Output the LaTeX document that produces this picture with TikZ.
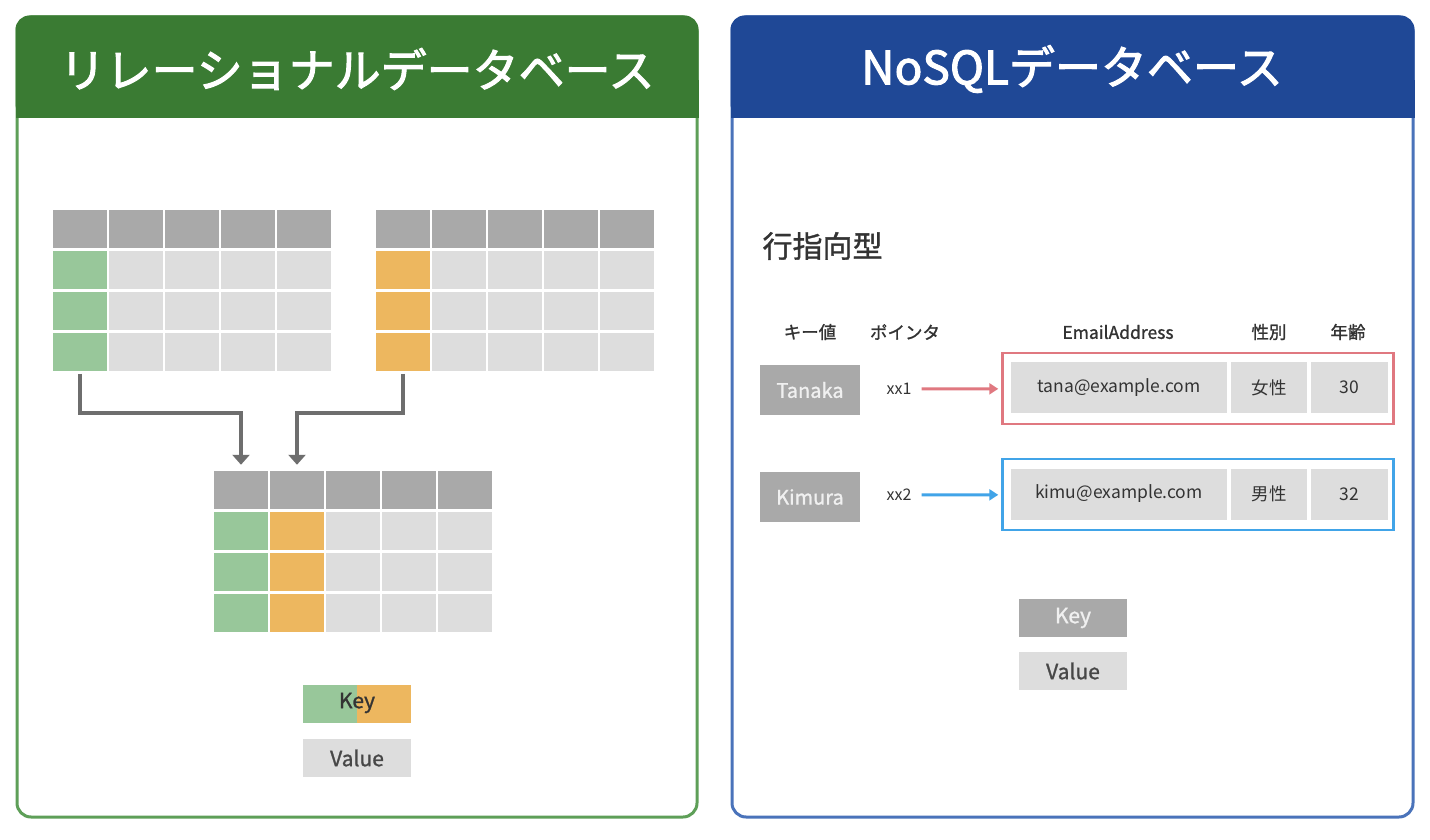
\documentclass[tikz,border=0pt]{standalone}
\usepackage{fontspec}
\setmainfont{Noto Sans CJK JP}
\newfontfamily\titlefont{Noto Sans CJK JP}[FakeBold=2.2]
\newfontfamily\midfont{Noto Sans CJK JP}[FakeBold=1.2]
\usepackage{tikz}
\usepackage{xcolor}
\usetikzlibrary{arrows.meta}

\definecolor{hdrgreen}{HTML}{3A7B33}
\definecolor{edgegreen}{HTML}{5E9F58}
\definecolor{hdrblue}{HTML}{1F4896}
\definecolor{edgeblue}{HTML}{4A73BA}
\definecolor{headgray}{HTML}{A9A9A9}
\definecolor{cellgray}{HTML}{DDDDDD}
\definecolor{keygreen}{HTML}{98C79A}
\definecolor{keyorange}{HTML}{EDB75F}
\definecolor{arrowgray}{HTML}{6E6E6E}
\definecolor{rowred}{HTML}{E07880}
\definecolor{rowblue}{HTML}{41A4E8}
\definecolor{inkgray}{HTML}{333333}

\begin{document}
\begin{tikzpicture}[x=1pt,y=-1pt,
    panel/.style={draw,line width=3pt,rounded corners=14pt,fill=white,
        minimum width=680pt,minimum height=800pt},
    title/.style={text=white,font=\fontsize{46}{50}\selectfont\titlefont},
    headcell/.style={fill=headgray,draw=white,line width=2.5pt,inner sep=0pt,
        minimum width=56pt,minimum height=40pt},
    cell/.style={headcell,fill=cellgray,minimum height=41pt},
    keycell/.style={cell,fill=#1},
    mergeline/.style={->,>={Triangle[width=17pt,length=10pt]},draw=arrowgray,
        line width=4pt,shorten >=4pt},
    legend/.style={fill=cellgray,inner sep=0pt,minimum width=108pt,minimum height=38pt,
        text=inkgray!90,font=\fontsize{21}{24}\selectfont\midfont},
    colhead/.style={text=inkgray,font=\fontsize{17.5}{20}\selectfont\midfont},
    keybox/.style={fill=headgray,text=white!94!black,inner sep=0pt,
        minimum width=100pt,minimum height=50pt,font=\fontsize{20}{23}\selectfont\midfont},
    pointer/.style={text=inkgray,inner sep=1pt,font=\fontsize{16}{19}\selectfont},
    record/.style={draw=#1,line width=2.5pt,minimum width=391pt,minimum height=71pt},
    field/.style={fill=cellgray,inner sep=0pt,minimum height=51pt,text=inkgray,
        font=\fontsize{17.5}{20}\selectfont},
    link/.style={->,>={Triangle[width=11pt,length=9pt]},draw=#1,line width=3pt,
        shorten <=9pt,shorten >=3pt}
]
    \useasboundingbox (0,0) rectangle (1430,840);

    % left panel
    \node[panel,draw=edgegreen] (relpanel) at (357,417) {};
    \fill[hdrgreen,rounded corners=14pt] (15.5,15.5) rectangle (698.5,118);
    \fill[hdrgreen] (15.5,80) rectangle (698.5,118);
    \node[title] (reltitle) at (357,69) {リレーショナルデータベース};

    % right panel
    \node[panel,draw=edgeblue,minimum width=681pt] (nosqlpanel) at (1072.5,417) {};
    \fill[hdrblue,rounded corners=14pt] (730.5,15.5) rectangle (1414.5,118);
    \fill[hdrblue] (730.5,80) rectangle (1414.5,118);
    \node[title] (nosqltitle) at (1072,69) {NoSQLデータベース};

    % table A
    \foreach \c/\x in {1/80,2/136,3/192,4/248,5/304}
        \node[headcell] (ta-\c-0) at (\x,229) {};
    \foreach \r/\y in {1/270,2/311,3/352} {
        \node[keycell=keygreen] (ta-1-\r) at (80,\y) {};
        \foreach \c/\x in {2/136,3/192,4/248,5/304}
            \node[cell] (ta-\c-\r) at (\x,\y) {};
    }

    % table B
    \foreach \c/\x in {1/403,2/459,3/515,4/571,5/627}
        \node[headcell] (tb-\c-0) at (\x,229) {};
    \foreach \r/\y in {1/270,2/311,3/352} {
        \node[keycell=keyorange] (tb-1-\r) at (403,\y) {};
        \foreach \c/\x in {2/459,3/515,4/571,5/627}
            \node[cell] (tb-\c-\r) at (\x,\y) {};
    }

    % joined table
    \foreach \c/\x in {1/241,2/297,3/353,4/409,5/465}
        \node[headcell] (tc-\c-0) at (\x,490) {};
    \foreach \r/\y in {1/531,2/572,3/613} {
        \node[keycell=keygreen] (tc-1-\r) at (241,\y) {};
        \node[keycell=keyorange] (tc-2-\r) at (297,\y) {};
        \foreach \c/\x in {3/353,4/409,5/465}
            \node[cell] (tc-\c-\r) at (\x,\y) {};
    }

    \coordinate (bendA) at (80,413);
    \coordinate (bendB) at (403,413);
    \draw[mergeline] (ta-1-3.south) -- (bendA) -| (tc-1-0.north);
    \draw[mergeline] (tb-1-3.south) -- (bendB) -| (tc-2-0.north);

    % left legend
    \node[legend,fill=keygreen,minimum width=54pt] (keyleft) at (330,704) {};
    \node[legend,fill=keyorange,minimum width=54pt] (keyright) at (384,704) {};
    \node[text=inkgray,font=\fontsize{21}{24}\selectfont\midfont] (keylabel) at (357,703) {Key};
    \node[legend] (valuelabel) at (357,758) {Value};

    % row oriented store
    \node[anchor=west,text=inkgray,font=\fontsize{30}{34}\selectfont\midfont] (rowtype) at (759,246) {行指向型};

    \node[colhead] (hkey) at (810,332) {キー値};
    \node[colhead] (hptr) at (905,332) {ポインタ};
    \node[colhead] (hmail) at (1118,332) {EmailAddress};
    \node[colhead] (hsex) at (1269,332) {性別};
    \node[colhead] (hage) at (1348,332) {年齢};

    \node[keybox] (tanaka) at (810,390) {Tanaka};
    \node[keybox] (kimura) at (810,497) {Kimura};
    \node[pointer] (xx1) at (899,389) {xx1};
    \node[pointer] (xx2) at (899,495) {xx2};

    \node[record=rowred] (recA) at (1198,388.5) {};
    \node[field,minimum width=216pt] (mailA) at (1119,387.5) {tana@example.com};
    \node[field,minimum width=76pt] (sexA) at (1269,387.5) {女性};
    \node[field,minimum width=77pt] (ageA) at (1349.5,387.5) {30};

    \node[record=rowblue] (recB) at (1198,494.5) {};
    \node[field,minimum width=216pt] (mailB) at (1119,494) {kimu@example.com};
    \node[field,minimum width=76pt] (sexB) at (1269,494) {男性};
    \node[field,minimum width=77pt] (ageB) at (1349.5,494) {32};

    \draw[link=rowred] (xx1) -- (recA);
    \draw[link=rowblue] (xx2) -- (recB);

    % right legend
    \node[legend,fill=headgray,text=white!94!black] (keyR) at (1073,618) {Key};
    \node[legend] (valueR) at (1073,671) {Value};
\end{tikzpicture}
\end{document}
